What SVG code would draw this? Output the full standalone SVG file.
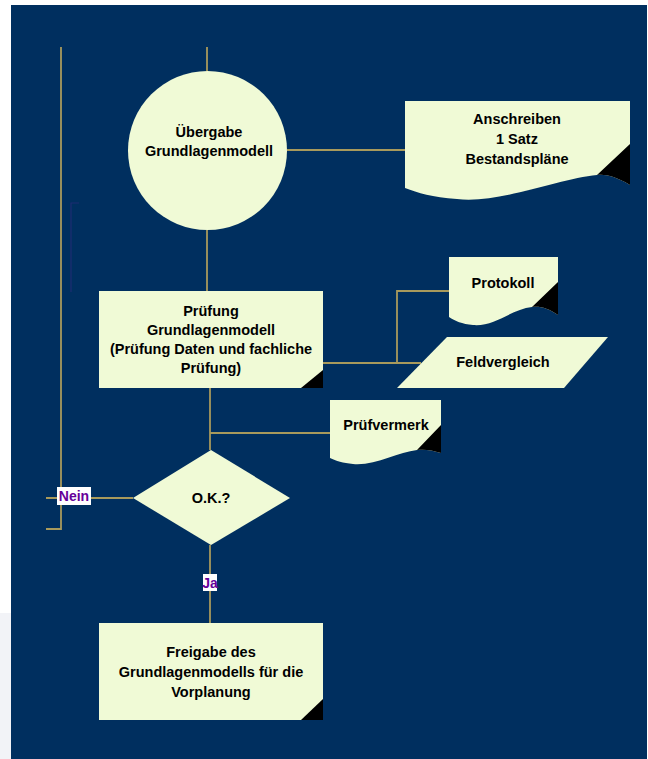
<svg xmlns="http://www.w3.org/2000/svg" width="648" height="759" viewBox="0 0 648 759">
<style>
.node{fill:#f0fad6;}
.tri{fill:#000;}
.t{font-family:"Liberation Sans",Arial,sans-serif;font-size:14.5px;font-weight:bold;fill:#000;text-anchor:middle;}
.lbl{font-family:"Liberation Sans",Arial,sans-serif;font-size:14px;font-weight:bold;fill:#660099;text-anchor:middle;}
.c{fill:none;stroke:#a89a5c;stroke-width:1.8;}
</style>
<rect x="0" y="0" width="648" height="759" fill="#ffffff"/>
<rect x="0" y="613" width="11" height="146" fill="#f2f3f7"/>
<rect x="11" y="5" width="636" height="754" fill="#002f5f"/>
<path d="M79,203 H71 V292" fill="none" stroke="#1d2d72" stroke-width="1.2"/>
<g id="connectors">
<path class="c" d="M61,47 V529 H46"/>
<path class="c" d="M46,498 H133"/>
<path class="c" d="M207,47 V71"/>
<path class="c" d="M207,230 V291"/>
<path class="c" d="M287,150 H405"/>
<path class="c" d="M323,363 H421"/>
<path class="c" d="M397,363 V291 H449"/>
<path class="c" d="M210,388 V450"/>
<path class="c" d="M210,433 H330"/>
<path class="c" d="M210,545 V623"/>
</g>
<g id="uebergabe">
<circle class="node" cx="207.5" cy="150.5" r="79.5"/>
<text class="t" x="209" y="137">Übergabe</text>
<text class="t" x="209" y="156">Grundlagenmodell</text>
</g>
<g id="anschreiben">
<path class="node" d="M405,101 H630 V185 C615,176 605,174 597,175 C560,178 500,204 457,199 C432,197 418,193 405,188 Z"/>
<path class="tri" d="M630,144 V185 C615,176 605,174 597,175 Z"/>
<text class="t" x="517" y="123.5">Anschreiben</text>
<text class="t" x="517" y="143.5">1 Satz</text>
<text class="t" x="517" y="163.5">Bestandspläne</text>
</g>
<g id="pruefung">
<rect class="node" x="99" y="291" width="224" height="97"/>
<path class="tri" d="M323,370 V388 H301 Z"/>
<text class="t" x="211" y="316">Prüfung</text>
<text class="t" x="211" y="335">Grundlagenmodell</text>
<text class="t" x="211" y="354">(Prüfung Daten und fachliche</text>
<text class="t" x="211" y="373">Prüfung)</text>
</g>
<g id="protokoll">
<path class="node" d="M449,257 H558 V315 C548,308 540,306 532,307 C512,309 494,327 473,325 C462,324 455,321 449,317 Z"/>
<path class="tri" d="M558,282 V315 C548,308 540,306 532,307 Z"/>
<text class="t" x="503" y="288">Protokoll</text>
</g>
<g id="feldvergleich">
<polygon class="node" points="447,337 608,337 564,388 397,388"/>
<text class="t" x="503" y="367">Feldvergleich</text>
</g>
<g id="pruefvermerk">
<path class="node" d="M330,400 H441 V453 C432,450 424,449 417,450 C398,452 375,466 353,464 C343,463 336,461 330,458 Z"/>
<path class="tri" d="M441,425 V453 C432,450 424,449 417,450 Z"/>
<text class="t" x="386" y="430">Prüfvermerk</text>
</g>
<g id="ok">
<polygon class="node" points="211,450 290,498 211,545 133,498"/>
<text class="t" x="211" y="503">O.K.?</text>
</g>
<g id="freigabe">
<rect class="node" x="99" y="623" width="224" height="97"/>
<path class="tri" d="M323,699 V720 H301 Z"/>
<text class="t" x="211" y="657">Freigabe des</text>
<text class="t" x="211" y="677">Grundlagenmodells für die</text>
<text class="t" x="211" y="697">Vorplanung</text>
</g>
<g id="labels">
<rect x="57" y="487" width="34" height="18" fill="#ffffff"/>
<text class="lbl" x="74" y="501">Nein</text>
<rect x="203" y="574" width="14" height="17" fill="#ffffff"/>
<text class="lbl" x="210" y="588">Ja</text>
</g>
</svg>
